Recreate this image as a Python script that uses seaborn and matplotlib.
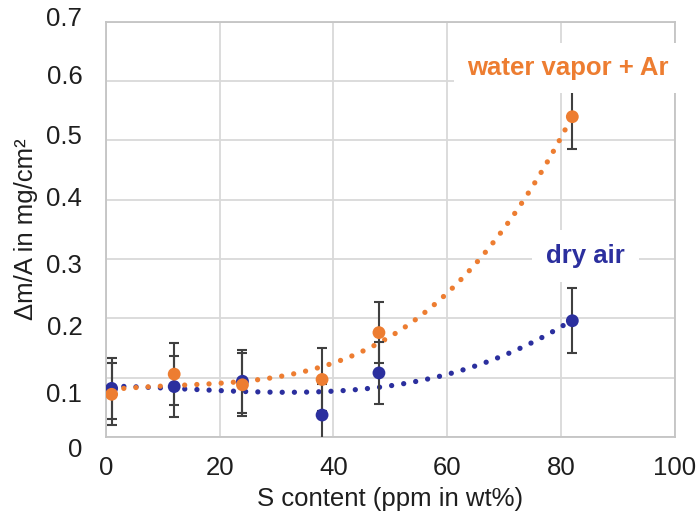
import numpy as np
import pandas as pd
import matplotlib
matplotlib.use("Agg")
import matplotlib.pyplot as plt
import matplotlib.transforms as mtransforms
import seaborn as sns

# ---- data ----
s_content = [1, 12, 24, 38, 48, 82]
dry_air = [0.082, 0.085, 0.094, 0.037, 0.108, 0.196]
dry_air_err = [0.052, 0.052, 0.053, 0.053, 0.052, 0.055]
water_ar = [0.072, 0.106, 0.088, 0.097, 0.176, 0.540]
water_ar_err = [0.052, 0.052, 0.053, 0.053, 0.052, 0.054]
series_names = ["dry air", "water vapor + Ar"]
x_ticks = [0, 20, 40, 60, 80, 100]
y_ticks = [0, 0.1, 0.2, 0.3, 0.4, 0.5, 0.6, 0.7]
y_tick_labels = ["0", "0.1", "0.2", "0.3", "0.4", "0.5", "0.6", "0.7"]

BLUE = "#2B2F9E"
ORANGE = "#ED7D31"
TEXT = "#1e1e1e"

sns.set_theme(style="whitegrid")
plt.rcParams["font.family"] = ["Liberation Sans", "DejaVu Sans"]

df = pd.DataFrame({
    "x": s_content * 2,
    "y": dry_air + water_ar,
    "err": dry_air_err + water_ar_err,
    "series": [series_names[0]] * len(s_content) + [series_names[1]] * len(s_content),
})

# Excel-like polynomial trendlines fitted to the points
xs = np.linspace(min(s_content), max(s_content), 200)
trend_rows = []
for name, ys in zip(series_names, [dry_air, water_ar]):
    coef = np.polyfit(s_content, ys, 3)
    for xv, yv in zip(xs, np.polyval(coef, xs)):
        trend_rows.append((xv, yv, name))
trend = pd.DataFrame(trend_rows, columns=["x", "y", "series"])

fig = plt.figure(figsize=(6.97, 5.19), dpi=100)
ax = fig.add_axes([0.152, 0.158, 0.816, 0.800])

palette = {series_names[0]: BLUE, series_names[1]: ORANGE}

sns.lineplot(data=trend, x="x", y="y", hue="series", palette=palette, ax=ax,
             legend=False, zorder=2)
for line in ax.get_lines():
    line.set_linewidth(3.8)
    line.set_linestyle((0, (0.01, 2.3)))
    line.set_dash_capstyle("round")

for name in series_names:
    sub = df[df["series"] == name]
    ax.errorbar(sub["x"], sub["y"], yerr=sub["err"], fmt="none",
                ecolor="#404040", elinewidth=1.5, capsize=3.5, capthick=1.5, zorder=3)

sns.scatterplot(data=df, x="x", y="y", hue="series", palette=palette, ax=ax,
                s=85, edgecolor="none", legend=False, zorder=4)

ax.set_xlim(0, 100)
ax.set_ylim(0, 0.7)
ax.set_xticks(x_ticks)
ax.set_yticks(y_ticks)
ax.set_yticklabels(y_tick_labels)
ax.tick_params(axis="both", labelsize=18.5, colors=TEXT, length=0)
ax.tick_params(axis="x", pad=14)
ax.tick_params(axis="y", pad=17)
ax.grid(True, color="#d9d9d9", linewidth=1.3)
for sp in ax.spines.values():
    sp.set_color("#c4c4c4")
    sp.set_linewidth(1.3)

# reproduce the slight drift of the y tick labels seen in the reference (pixels, + = down)
label_shift = [11, 15, 7, 4, -3, -6, -7, -5]
for lab, sh in zip(ax.get_yticklabels(), label_shift):
    lab.set_transform(lab.get_transform() +
                      mtransforms.ScaledTranslation(0, -sh / 100, fig.dpi_scale_trans))

ax.set_xlabel("S content (ppm in wt%)", fontsize=18.5, color=TEXT, labelpad=5)
ax.set_ylabel("Δm/A in mg/cm²", fontsize=18.5, color=TEXT, labelpad=6)

ax.text(81.2, 0.622, "water vapor + Ar", color=ORANGE, fontsize=18.5, fontweight="bold",
        ha="center", va="center", zorder=6, clip_on=False,
        bbox=dict(boxstyle="square,pad=0.5", facecolor="white", edgecolor="none"))
ax.text(84.3, 0.305, "dry air", color=BLUE, fontsize=18.5, fontweight="bold",
        ha="center", va="center", zorder=6,
        bbox=dict(boxstyle="square,pad=0.55", facecolor="white", edgecolor="none"))

fig.savefig("out.png", dpi=100)
